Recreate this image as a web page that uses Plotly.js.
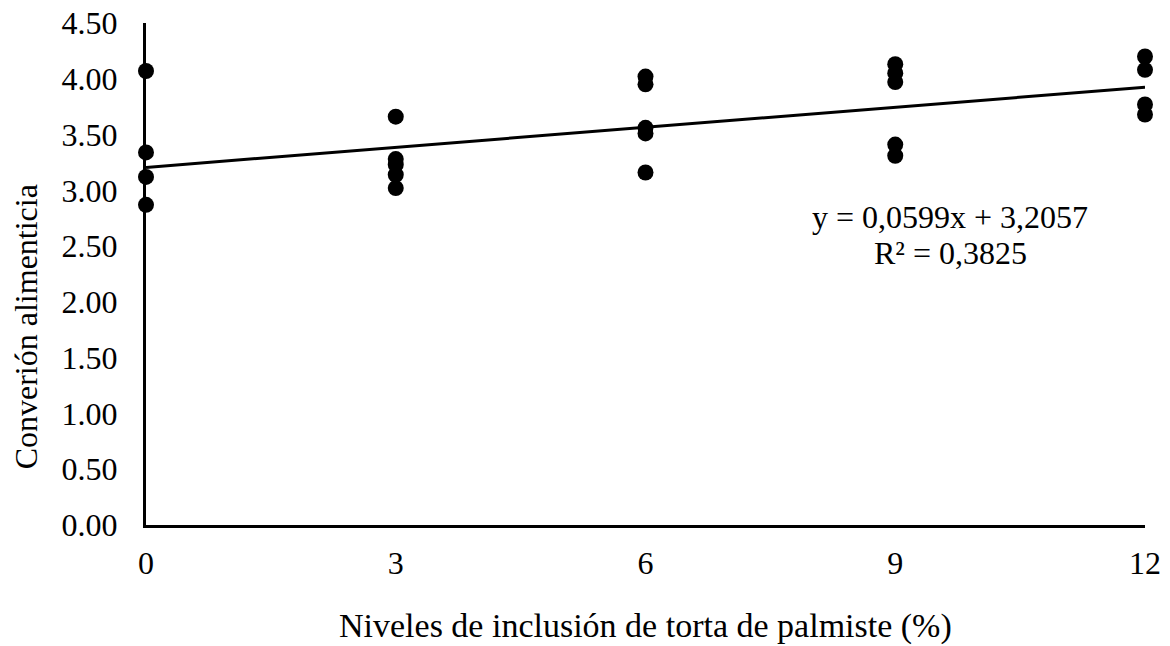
<!DOCTYPE html>
<html>
<head>
<meta charset="utf-8">
<script src="https://cdn.plot.ly/plotly-3.0.1.min.js"></script>
<style>html,body{margin:0;padding:0;background:#fff;}#chart{width:1170px;height:646px;}</style>
</head>
<body>
<div id="chart"></div>
<script>
// Data
const levelsX = [0,0,0,0, 3,3,3,3,3, 6,6,6,6,6, 9,9,9,9,9, 12,12,12,12];
const conversion = [4.07,3.34,3.12,2.87, 3.66,3.28,3.23,3.14,3.02, 4.02,3.95,3.56,3.51,3.16, 4.13,4.05,3.97,3.41,3.31, 4.20,4.08,3.77,3.68];
const trendX = [0, 12];
const trendY = [3.2057, 3.9245];
const tickVals = [0, 3, 6, 9, 12];
const eqLine1 = 'y = 0,0599x + 3,2057';
const eqLine2 = 'R² = 0,3825';
const xTitle = 'Niveles de inclusión de torta de palmiste (%)';
const yTitle = 'Converión alimenticia';

const FONT = '"Liberation Serif", "Times New Roman", serif';

const traces = [
  {x: levelsX, y: conversion, type: 'scatter', mode: 'markers',
   marker: {color: '#000', size: 16}, cliponaxis: false, hoverinfo: 'skip'},
  {x: trendX, y: trendY, type: 'scatter', mode: 'lines',
   line: {color: '#000', width: 3}, cliponaxis: false, hoverinfo: 'skip'}
];

const layout = {
  width: 1170, height: 646,
  margin: {l: 146, r: 25, t: 23, b: 121},
  paper_bgcolor: '#fff', plot_bgcolor: '#fff',
  showlegend: false,
  font: {family: FONT, size: 32, color: '#000'},
  xaxis: {range: [0, 12], tickvals: tickVals, showgrid: false, zeroline: false,
          showline: true, linecolor: '#000', linewidth: 3, ticks: '',
          ticklabelstandoff: 8, tickfont: {family: FONT, size: 32, color: '#000'}},
  yaxis: {range: [0, 4.5], dtick: 0.5, tick0: 0, tickformat: '.2f', showgrid: false, zeroline: false,
          showline: true, linecolor: '#000', linewidth: 3, ticks: '',
          ticklabelstandoff: 19, tickfont: {family: FONT, size: 32, color: '#000'}},
  annotations: [
    {text: yTitle, xref: 'paper', yref: 'paper', x: -0.12, y: 0.394, xanchor: 'center', yanchor: 'middle',
     textangle: -90, showarrow: false, font: {family: FONT, size: 32, color: '#000'}},
    {text: xTitle, xref: 'paper', yref: 'paper', x: 0.5, y: -0.201, xanchor: 'center', yanchor: 'middle',
     showarrow: false, font: {family: FONT, size: 34, color: '#000'}},
    {text: eqLine1, xref: 'x', yref: 'y', x: 9.66, y: 2.76, xanchor: 'center', yanchor: 'middle',
     showarrow: false, font: {family: FONT, size: 32, color: '#000'}},
    {text: eqLine2, xref: 'x', yref: 'y', x: 9.66, y: 2.44, xanchor: 'center', yanchor: 'middle',
     showarrow: false, font: {family: FONT, size: 32, color: '#000'}}
  ]
};

Plotly.newPlot('chart', traces, layout, {staticPlot: true, displayModeBar: false});
</script>
</body>
</html>
